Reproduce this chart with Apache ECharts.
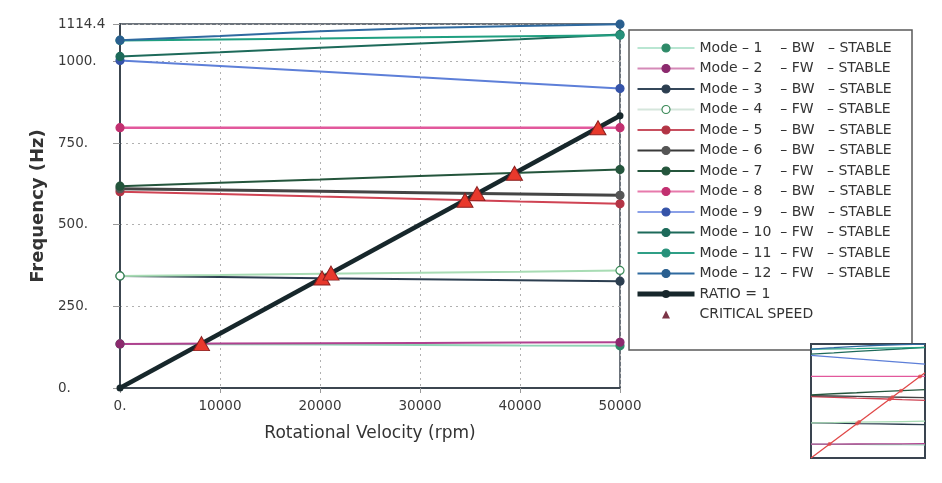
<!DOCTYPE html>
<html>
<head>
<meta charset="utf-8">
<script src="https://cdn.jsdelivr.net/npm/echarts@6/dist/echarts.min.js"></script>
<style>
html,body{margin:0;padding:0;background:#fff;}
#chart{width:942px;height:483px;}
</style>
</head>
<body>
<div id="chart"></div>
<script>
// ---- data ----
const rpm = [0, 10000, 20000, 30000, 40000, 50000];
const mode1 = [135, 134, 133, 132, 130, 129];
const mode2 = [135, 136, 137, 138, 139, 140];
const mode3 = [343, 340, 336, 333, 330, 327];
const mode4 = [343, 346, 350, 353, 356, 360];
const mode5 = [601, 594, 586, 579, 571, 564];
const mode6 = [610, 606, 602, 598, 594, 590];
const mode7 = [618, 628, 638, 649, 659, 669];
const mode8 = [797, 797, 797, 797, 797, 797];
const mode9 = [1003, 986, 969, 951, 934, 917];
const mode10 = [1015, 1028, 1042, 1055, 1068, 1082];
const mode11 = [1064, 1067, 1070, 1074, 1077, 1080];
const mode12 = [1065, 1078, 1092, 1102, 1108, 1114];
const ratioRpm = [0, 50000];
const ratioHz = [0, 833.3];
const critRpm = [8150, 20200, 21100, 34500, 35700, 39450, 47800];
const critHz = [135.8, 336.7, 351.7, 575.0, 595.0, 657.5, 796.7];
const yTicks = [0, 250, 500, 750, 1000];
const yMax = 1114.4;
const xTicks = [0, 10000, 20000, 30000, 40000, 50000];

const modeNames = [
  'Mode – 1    – BW   – STABLE',
  'Mode – 2    – FW   – STABLE',
  'Mode – 3    – BW   – STABLE',
  'Mode – 4    – FW   – STABLE',
  'Mode – 5    – BW   – STABLE',
  'Mode – 6    – BW   – STABLE',
  'Mode – 7    – FW   – STABLE',
  'Mode – 8    – BW   – STABLE',
  'Mode – 9    – BW   – STABLE',
  'Mode – 10  – FW   – STABLE',
  'Mode – 11  – FW   – STABLE',
  'Mode – 12  – FW   – STABLE'
];
const ratioName = 'RATIO = 1';
const critName = 'CRITICAL SPEED';
const modes = [mode1, mode2, mode3, mode4, mode5, mode6, mode7, mode8, mode9, mode10, mode11, mode12];

// ---- styles ----
const lineColors = ['#8fd3b5', '#b0418f', '#2c3e50', '#a8dcb4', '#cf4353', '#454545',
                    '#24553c', '#e2589c', '#5d7fd8', '#1d6a5a', '#1f9f80', '#2f6aa0'];
const legendLineColors = ['#b9e6d2', '#d58ab8', '#34475a', '#d5e6dc', '#c85060', '#3a3a3a',
                    '#24553c', '#e77aac', '#8aa0e8', '#1d6a5a', '#2f9f86', '#2f6aa0'];
const markColors = ['#2e8a68', '#8c2a6e', '#2c3e50', '#ffffff', '#b33445', '#555555',
                    '#24553c', '#c23070', '#3553a8', '#1d6a5a', '#27917a', '#2a5f8f'];
const markBorders = ['#2e8a68', '#8c2a6e', '#2c3e50', '#3b8a58', '#b33445', '#555555',
                    '#24553c', '#c23070', '#3553a8', '#1d6a5a', '#27917a', '#2a5f8f'];
const widths = [2, 2, 2, 2, 2, 3, 2, 2.5, 2, 2, 2, 2];

const FONT = 'DejaVu Sans';
const series = [];
modes.forEach((m, i) => {
  series.push({
    name: modeNames[i], type: 'line', xAxisIndex: 0, yAxisIndex: 0,
    data: rpm.map((r, k) => [r, m[k]]),
    symbol: 'circle',
    symbolSize: (v, p) => (p.dataIndex === 0 || p.dataIndex === rpm.length - 1) ? 8 : 0,
    showSymbol: true, clip: false,
    lineStyle: { color: lineColors[i], width: widths[i] },
    itemStyle: { color: markColors[i], borderColor: markBorders[i], borderWidth: 1.2 },
    emphasis: { disabled: true }, z: 3
  });
});
series.push({
  name: ratioName, type: 'line', data: ratioRpm.map((r, k) => [r, ratioHz[k]]),
  symbol: 'circle', symbolSize: (v, p) => p.dataIndex === 0 || p.dataIndex === ratioRpm.length - 1 ? 7 : 0,
  clip: false,
  lineStyle: { color: '#17272b', width: 4.5 }, itemStyle: { color: '#17272b' },
  emphasis: { disabled: true }, z: 4
});
series.push({
  name: critName, type: 'line', data: critRpm.map((r, k) => [r, critHz[k]]),
  symbol: 'triangle', symbolSize: [16, 14], showSymbol: true, clip: false,
  lineStyle: { opacity: 0, width: 1 },
  itemStyle: { color: '#e8392c', borderColor: '#8a1f1f', borderWidth: 1, opacity: 1 },
  emphasis: { disabled: true }, z: 5
});
// inset overview
modes.forEach((m, i) => {
  series.push({
    name: '_inset' + i, type: 'line', xAxisIndex: 1, yAxisIndex: 1,
    data: rpm.map((r, k) => [r, m[k]]), showSymbol: false,
    lineStyle: { color: lineColors[i], width: 1.3 }, emphasis: { disabled: true }, z: 3
  });
});
series.push({
  name: '_insetRatio', type: 'line', xAxisIndex: 1, yAxisIndex: 1,
  data: ratioRpm.map((r, k) => [r, ratioHz[k]]), showSymbol: false,
  lineStyle: { color: '#e04848', width: 1.3 }, emphasis: { disabled: true }, z: 4
});
series.push({
  name: '_insetCrit', type: 'scatter', xAxisIndex: 1, yAxisIndex: 1,
  data: critRpm.map((r, k) => [r, critHz[k]]), symbol: 'circle', symbolSize: 4,
  itemStyle: { color: '#e04848' }, emphasis: { disabled: true }, z: 5
});

const chart = echarts.init(document.getElementById('chart'), null, { renderer: 'canvas' });
chart.setOption({
  animation: false,
  backgroundColor: '#ffffff',
  textStyle: { fontFamily: FONT },
  graphic: [
    { type: 'rect', z: -10, shape: { x: 629, y: 30, width: 283, height: 320 },
      style: { fill: '#ffffff', stroke: '#5a5a5a', lineWidth: 1.5 } }
  ],
  grid: [
    { left: 120, top: 24, width: 500, height: 364, show: true,
      borderColor: '#3c4650', borderWidth: 1.5, backgroundColor: 'transparent', containLabel: false },
    { left: 811, top: 344, width: 114, height: 114, show: true,
      borderColor: '#3a4450', borderWidth: 2, backgroundColor: '#ffffff' }
  ],
  xAxis: [
    { type: 'value', gridIndex: 0, min: 0, max: 50000, interval: 10000,
      name: 'Rotational Velocity (rpm)', nameLocation: 'middle', nameGap: 37,
      nameTextStyle: { fontFamily: FONT, fontSize: 17, color: '#333', fontWeight: 'normal' },
      axisLine: { show: true, lineStyle: { color: '#3c4650', width: 2 } },
      axisTick: { show: true, length: 5, lineStyle: { color: '#999' } },
      axisLabel: { margin: 11, fontFamily: FONT, fontSize: 13.5, color: '#3a3a3a',
        formatter: v => (v === 0 ? '0.' : String(v)) },
      splitLine: { show: true, lineStyle: { color: '#b0b0b0', type: [2, 4], width: 1 } }
    },
    { type: 'value', gridIndex: 1, min: 0, max: 50000, show: false, splitLine: { show: false } }
  ],
  yAxis: [
    { type: 'value', gridIndex: 0, min: 0, max: yMax, interval: 250,
      name: 'Frequency (Hz)', nameLocation: 'middle', nameGap: 63, nameRotate: 90,
      nameTextStyle: { fontFamily: FONT, fontSize: 18, color: '#333', fontWeight: 'bold' },
      axisLine: { show: true, lineStyle: { color: '#3c4650', width: 2 } },
      axisTick: { show: true, length: 7, lineStyle: { color: '#999' } },
      axisLabel: { align: 'left', margin: 62, fontFamily: FONT, fontSize: 13.5, color: '#3a3a3a',
        formatter: v => (Math.abs(v - yMax) < 1e-6 ? String(yMax) : (yTicks.indexOf(v) >= 0 ? v + '.' : '')) },
      splitLine: { show: true, lineStyle: { color: '#b0b0b0', type: [2, 4], width: 1 } }
    },
    { type: 'value', gridIndex: 1, min: 0, max: yMax, show: false, splitLine: { show: false } }
  ],
  legend: {
    orient: 'vertical', left: 635, top: 41, padding: 0,
    itemWidth: 57, itemHeight: 10, itemGap: 6.5,
    selectedMode: false,
    textStyle: { fontFamily: FONT, fontSize: 14, color: '#333', lineHeight: 14 },
    data: modeNames.map((n, i) => ({ name: n, itemStyle: { color: markColors[i], borderColor: markBorders[i], borderWidth: 1.2 },
                                     lineStyle: { color: legendLineColors[i] } }))
      .concat([{ name: ratioName, lineStyle: { color: '#17272b', width: 5 } },
               { name: critName, itemStyle: { color: '#7b3446', borderWidth: 0 } }])
  },
  series: series
});
</script>
</body>
</html>
